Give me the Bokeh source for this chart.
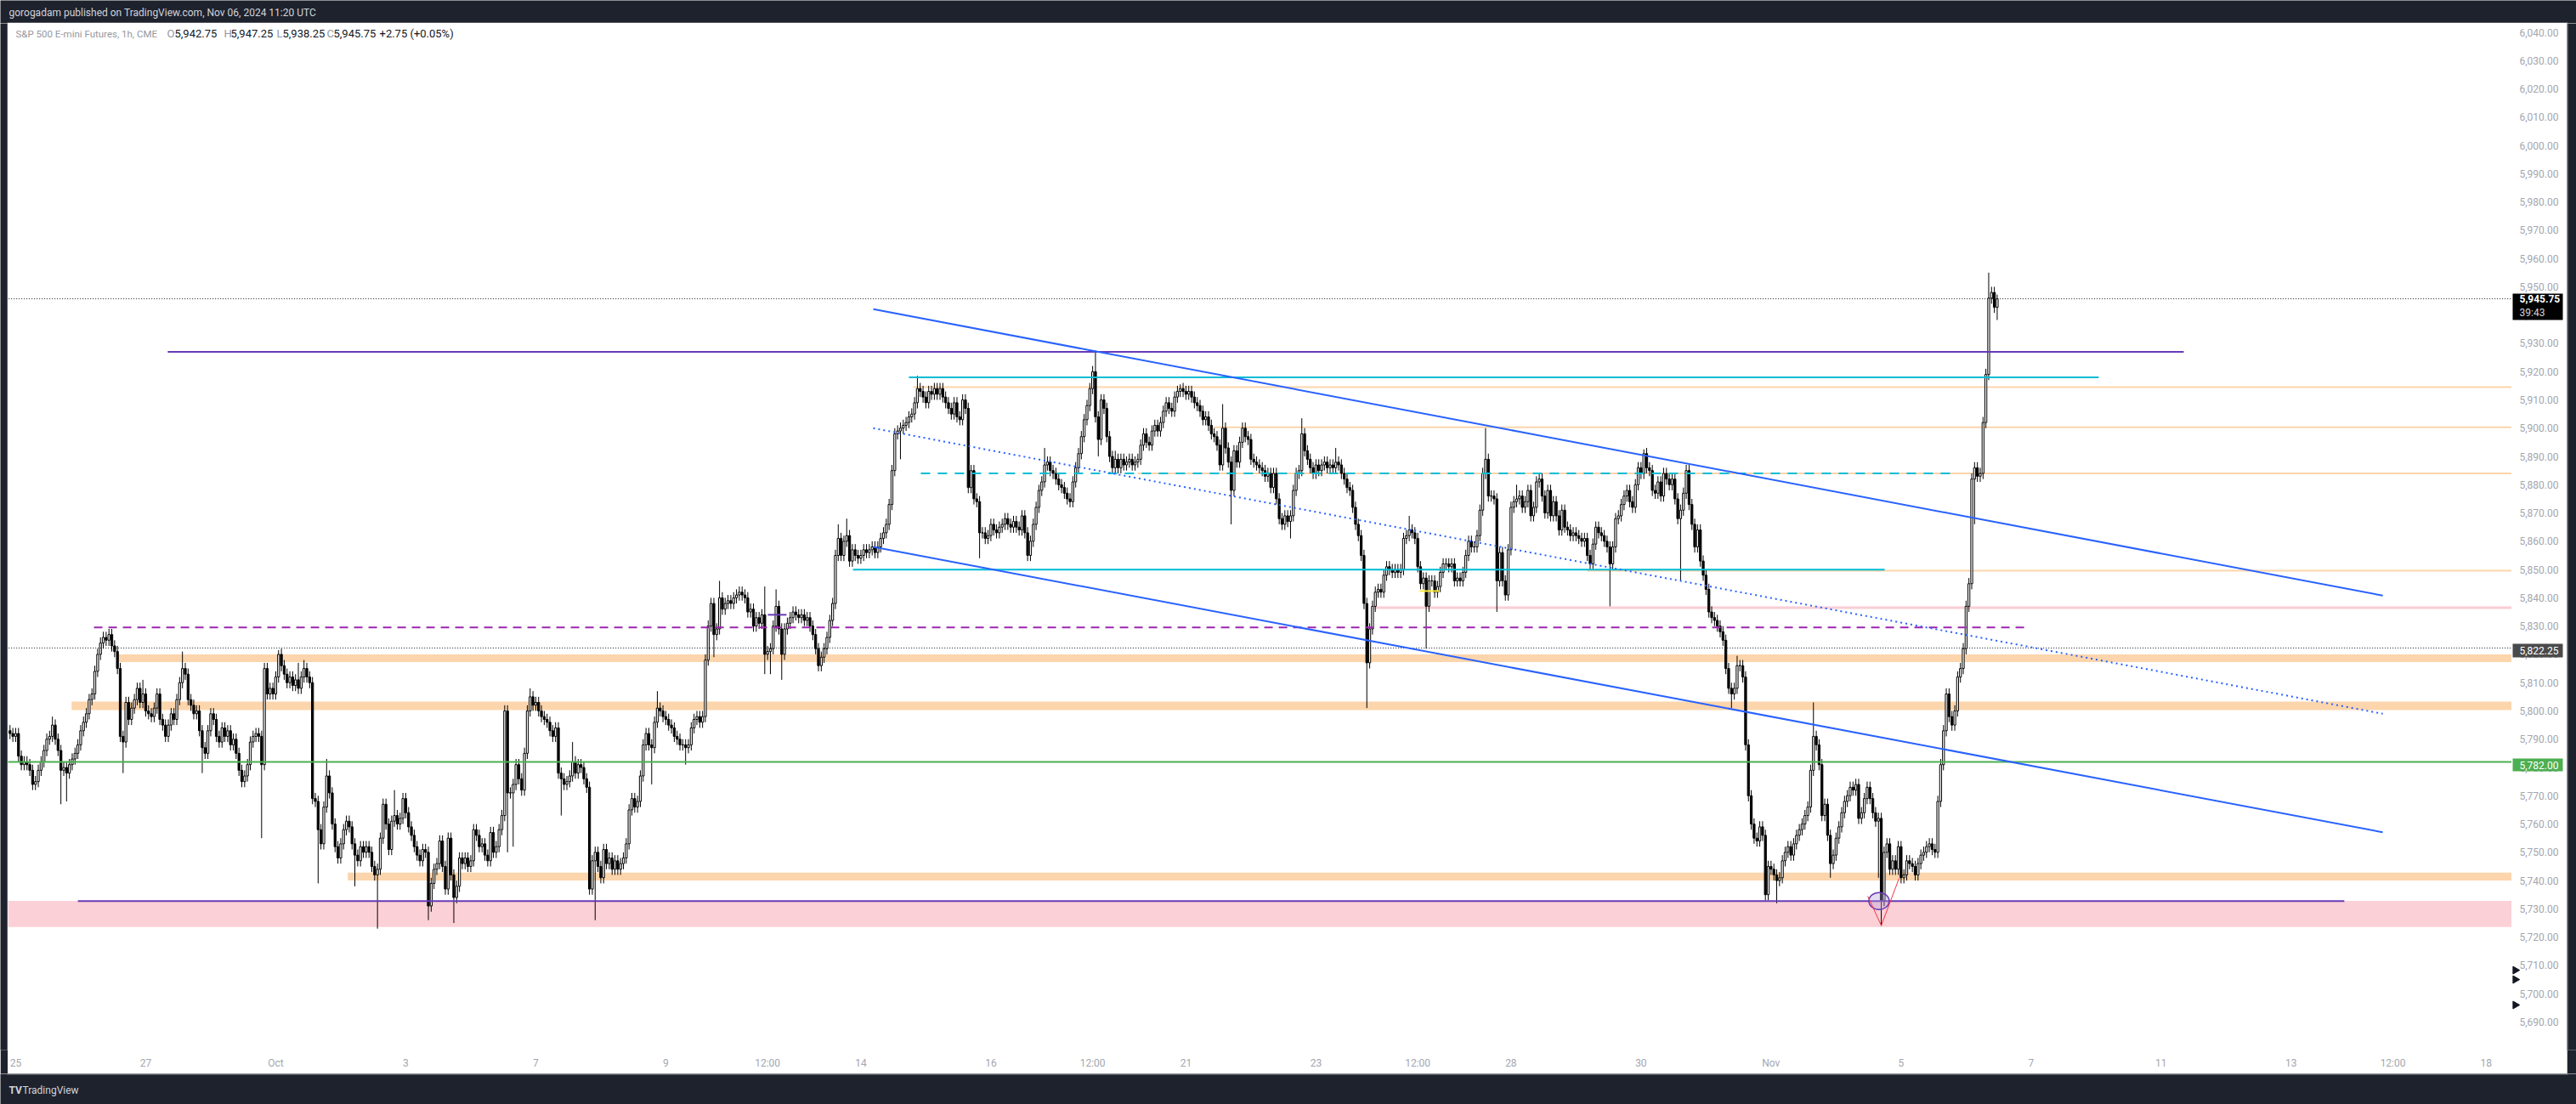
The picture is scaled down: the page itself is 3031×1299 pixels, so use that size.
import numpy as np
from bokeh.plotting import figure
from bokeh.models import Range1d, FixedTicker, Label
from bokeh.layouts import column, row
from bokeh.embed import file_html
from bokeh.resources import INLINE
from bokeh.core.properties import value

# ---------------- data (hourly ES candles) ----------------
first_open = 5793
closes = [
 5792, 5791, 5792, 5784, 5781, 5782, 5781, 5779, 5774, 5775,
 5779, 5782, 5786, 5790, 5791, 5795, 5790, 5786, 5779, 5780,
 5778, 5781, 5783, 5785, 5788, 5793, 5796, 5799, 5804, 5806,
 5814, 5820, 5824, 5826, 5825, 5827, 5823, 5821, 5815, 5791,
 5789, 5803, 5797, 5801, 5804, 5808, 5803, 5806, 5800, 5799,
 5798, 5801, 5806, 5797, 5795, 5791, 5795, 5799, 5797, 5804,
 5810, 5815, 5813, 5804, 5802, 5799, 5800, 5793, 5787, 5785,
 5793, 5799, 5797, 5791, 5789, 5794, 5791, 5793, 5788, 5790,
 5785, 5779, 5775, 5777, 5781, 5789, 5791, 5792, 5791, 5781,
 5815, 5806, 5808, 5806, 5812, 5820, 5816, 5813, 5810, 5812,
 5809, 5811, 5808, 5812, 5815, 5812, 5810, 5769, 5768, 5758,
 5753, 5766, 5777, 5771, 5760, 5752, 5748, 5753, 5758, 5761,
 5759, 5753, 5749, 5747, 5752, 5750, 5752, 5750, 5745, 5742,
 5744, 5755, 5767, 5760, 5751, 5761, 5763, 5760, 5762, 5769,
 5764, 5759, 5756, 5752, 5749, 5747, 5751, 5750, 5731, 5739,
 5744, 5746, 5754, 5745, 5737, 5755, 5742, 5734, 5738, 5748,
 5746, 5748, 5745, 5747, 5758, 5756, 5752, 5753, 5749, 5747,
 5757, 5750, 5752, 5758, 5763, 5800, 5771, 5771, 5774, 5781,
 5776, 5772, 5785, 5800, 5805, 5802, 5803, 5800, 5798, 5797,
 5796, 5793, 5791, 5794, 5778, 5776, 5774, 5775, 5777, 5782,
 5778, 5781, 5780, 5776, 5773, 5737, 5747, 5750, 5745, 5741,
 5751, 5746, 5748, 5744, 5747, 5744, 5746, 5748, 5753, 5765,
 5769, 5766, 5768, 5777, 5788, 5792, 5788, 5787, 5796, 5801,
 5800, 5798, 5797, 5795, 5794, 5791, 5790, 5788, 5788, 5787,
 5788, 5794, 5797, 5798, 5796, 5798, 5818, 5830, 5838, 5827,
 5829, 5840, 5836, 5838, 5839, 5838, 5840, 5841, 5842, 5841,
 5840, 5835, 5836, 5830, 5833, 5831, 5834, 5820, 5821, 5822,
 5830, 5837, 5829, 5820, 5829, 5831, 5833, 5835, 5834, 5833,
 5834, 5832, 5833, 5830, 5827, 5822, 5816, 5819, 5822, 5826,
 5832, 5838, 5855, 5861, 5855, 5860, 5862, 5853, 5857, 5855,
 5854, 5855, 5857, 5856, 5857, 5858, 5856, 5858, 5861, 5863,
 5866, 5873, 5885, 5898, 5899, 5900, 5901, 5902, 5904, 5905,
 5909, 5914, 5913, 5911, 5909, 5913, 5912, 5914, 5912, 5914,
 5911, 5909, 5907, 5905, 5909, 5904, 5903, 5910, 5907, 5879,
 5885, 5875, 5874, 5863, 5863, 5861, 5862, 5866, 5864, 5863,
 5865, 5866, 5868, 5866, 5865, 5867, 5865, 5864, 5869, 5863,
 5855, 5860, 5866, 5872, 5878, 5881, 5887, 5888, 5885, 5884,
 5882, 5880, 5879, 5877, 5875, 5874, 5881, 5886, 5891, 5897,
 5903, 5908, 5914, 5920, 5904, 5896, 5910, 5907, 5897, 5890,
 5886, 5889, 5886, 5889, 5887, 5888, 5889, 5887, 5888, 5889,
 5894, 5898, 5895, 5894, 5899, 5901, 5899, 5902, 5906, 5909,
 5907, 5906, 5911, 5913, 5914, 5913, 5912, 5913, 5911, 5909,
 5908, 5906, 5903, 5904, 5901, 5898, 5897, 5894, 5887, 5900,
 5893, 5888, 5878, 5892, 5888, 5895, 5900, 5897, 5896, 5889,
 5888, 5887, 5886, 5885, 5883, 5884, 5879, 5884, 5875, 5868,
 5866, 5869, 5867, 5869, 5878, 5884, 5885, 5898, 5892, 5889,
 5886, 5884, 5887, 5885, 5887, 5888, 5886, 5887, 5886, 5888,
 5887, 5884, 5882, 5879, 5878, 5872, 5866, 5862, 5855, 5838,
 5817, 5829, 5837, 5842, 5843, 5842, 5848, 5851, 5850, 5849,
 5850, 5849, 5850, 5861, 5862, 5864, 5863, 5861, 5851, 5845,
 5847, 5837, 5846, 5846, 5842, 5844, 5849, 5852, 5852, 5851,
 5852, 5846, 5847, 5846, 5849, 5855, 5860, 5858, 5858, 5862,
 5871, 5884, 5889, 5876, 5876, 5875, 5846, 5856, 5846, 5841,
 5857, 5872, 5874, 5875, 5876, 5872, 5874, 5878, 5869, 5872,
 5881, 5882, 5876, 5870, 5878, 5869, 5874, 5869, 5864, 5871,
 5865, 5864, 5862, 5863, 5862, 5861, 5860, 5861, 5855, 5852,
 5859, 5865, 5863, 5862, 5860, 5858, 5852, 5858, 5868, 5869,
 5873, 5876, 5878, 5874, 5872, 5880, 5886, 5884, 5891, 5886,
 5885, 5878, 5877, 5881, 5876, 5884, 5882, 5880, 5882, 5875,
 5868, 5871, 5877, 5885, 5873, 5866, 5858, 5864, 5853, 5848,
 5843, 5835, 5833, 5832, 5830, 5828, 5825, 5815, 5808, 5806,
 5808, 5816, 5816, 5812, 5788, 5770, 5760, 5755, 5754, 5759,
 5756, 5735, 5745, 5744, 5742, 5740, 5741, 5747, 5750, 5752,
 5749, 5753, 5756, 5758, 5760, 5763, 5766, 5779, 5791, 5788,
 5781, 5763, 5767, 5756, 5746, 5749, 5755, 5759, 5764, 5768,
 5770, 5773, 5772, 5774, 5762, 5764, 5769, 5773, 5769, 5764,
 5761, 5762, 5733, 5750, 5753, 5744, 5747, 5744, 5752, 5741,
 5742, 5747, 5746, 5745, 5742, 5746, 5749, 5750, 5752, 5753,
 5751, 5750, 5768, 5781, 5793, 5806, 5798, 5795, 5800, 5812,
 5815, 5822, 5837, 5845, 5882, 5886, 5883, 5884, 5902, 5919,
 5946, 5948, 5942.75, 5945.75,
]
# wick extents beyond the body (points), for bars with visible long wicks
wick_up = {15: 3, 35: 2, 47: 5, 61: 6, 95: 1.5, 102: 6, 104: 3, 112: 6, 136: 9,
           184: 3, 199: 7, 229: 6, 248: 2, 251: 6, 267: 10, 271: 6, 293: 5, 296: 6,
           321: 4.5, 366: 6, 384: 7.5, 391: 3, 414: 1.5, 429: 8.5, 457: 5.5, 469: 5,
           495: 5, 522: 11, 533: 5, 541: 2, 578: 1.5, 611: 3.5, 638: 12, 653: 2,
           700: 9, 703: 1.5}
wick_dn = {18: 12, 20: 10, 40: 11, 68: 9, 89: 26, 109: 19, 122: 11, 130: 19, 148: 5,
           157: 9, 176: 21, 178: 19, 195: 13, 207: 21, 227: 13, 239: 6, 249: 8, 267: 7,
           269: 8, 273: 9, 315: 10, 343: 9, 385: 6, 432: 12, 453: 6, 480: 16, 501: 15,
           526: 11, 566: 15, 591: 22, 609: 5, 625: 8, 644: 5, 661: 20, 662: 9, 695: 16,
           703: 4.5}
small_wick = 2

x_tick_bars = [2, 48, 94, 140, 186, 232, 268, 301, 347, 383, 416, 462, 498, 531,
               577, 623, 669, 715, 761, 807, 843, 876]
x_tick_labels = ["25", "27", "Oct", "3", "7", "9", "12:00", "14", "16", "12:00", "21",
                 "23", "12:00", "28", "30", "Nov", "5", "7", "11", "13", "12:00", "18"]
y_ticks = list(range(5690, 6041, 10))

last_price = 5945.75
countdown = "39:43"
prev_close = 5822.25
green_level = 5782.00

# drawings: horizontal levels (price, start bar, end bar)
purple_level = (5927.0, 55.8, 769.0)
cyan_top = (5918.0, 318.0, 738.9)
cyan_mid = (5850.0, 298.2, 663.2)
cyan_dash = (5884.0, 322.2, 688.1)
orange_lines = [(5914.5, 319.5), (5900.3, 425.9), (5884.0, 398.9), (5849.6, 557.9)]
pink_line = (5836.5, 481.9)
purple_dash = (5829.5, 29.7, 713.7)
purple_bottom = (5732.75, 24.0, 825.8)
purple_small = (5834.0, 268.1, 274.7)
yellow_small = (5842.4, 498.7, 505.6)
orange_bands = [(5817.3, 5820.0, 38.5), (5800.3, 5803.3, 21.8), (5740.0, 5742.8, 119.5)]
pink_band = (5723.6, 5732.8)
# channel trend lines: (bar0, price0, bar1, price1)
chan_upper = (305.4, 5942.1, 839.4, 5840.8)
chan_mid = (305.4, 5900.0, 839.4, 5799.0)
chan_lower = (305.4, 5858.0, 839.4, 5757.1)
ellipse_mark = (661.2, 5732.75)
red_path_x = [657.2, 662.0, 668.3]
red_path_y = [5734.5, 5724.1, 5740.8]
markers_right = [5708.3, 5705.0, 5696.0]

legend_parts = [("S&P 500 E-mini Futures, 1h, CME", 18, "#9598a1", "11.5px"),
                ("O", 196, "#9598a1", "13px"), ("5,942.75", 205, "#131722", "13px"),
                ("H", 263, "#9598a1", "13px"), ("5,947.25", 271, "#131722", "13px"),
                ("L", 325, "#9598a1", "13px"), ("5,938.25", 332, "#131722", "13px"),
                ("C", 384, "#9598a1", "13px"), ("5,945.75", 392, "#131722", "13px"),
                ("+2.75 (+0.05%)", 446, "#131722", "13px")]

# ---------------- layout geometry ----------------
DARK = "#1e222d"
EDGE = "#8a8d96"
FONT = "Roboto"
AXIS_TXT = "#a3a6af"
X0, X1 = -0.69, 885.07          # bar index range of the plot frame
Y0, Y1 = 5680.07, 6043.16       # price range of the plot frame
PANEL_LEFT, FRAME_W, SCALE_W, RIGHT_W = 9, 2946, 65, 11
HEAD_H, MAIN_H, FOOT_H, TIME_H = 27, 1236, 36, 28
FRAME_H = MAIN_H - TIME_H


def bar_at(px):
    return X0 + (px - PANEL_LEFT) * (X1 - X0) / FRAME_W


def price_at(py):
    return Y1 - (py - HEAD_H) * (Y1 - Y0) / FRAME_H


def plain(fig):
    fig.axis.visible = False
    fig.grid.visible = False
    return fig


yr = Range1d(Y0, Y1)
p = figure(width=FRAME_W, height=MAIN_H, x_range=Range1d(X0, X1), y_range=yr,
           output_backend="svg", toolbar_location=None, title=None,
           min_border=0, min_border_left=0, min_border_right=0, min_border_top=0,
           min_border_bottom=TIME_H, y_axis_location=None,
           background_fill_color="white", border_fill_color="white",
           outline_line_color=None)
p.grid.visible = False
p.xaxis.ticker = FixedTicker(ticks=x_tick_bars)
p.xaxis.major_label_overrides = {t: l for t, l in zip(x_tick_bars, x_tick_labels)}
p.xaxis.axis_line_color = None
p.xaxis.major_tick_line_color = None
p.xaxis.minor_tick_line_color = None
p.xaxis.major_tick_out = 0
p.xaxis.major_tick_in = 0
p.xaxis.major_label_text_font = FONT
p.xaxis.major_label_text_font_size = "12px"
p.xaxis.major_label_text_color = AXIS_TXT
p.xaxis.major_label_standoff = 8

FAR_L, FAR_R = -5, 900

# bands under candles
p.quad(left=[FAR_L], right=[FAR_R], bottom=[pink_band[0]], top=[pink_band[1]],
       fill_color="#fbd0d6", line_color=None)
for lo_, hi_, start in orange_bands:
    p.quad(left=[start], right=[FAR_R], bottom=[lo_], top=[hi_],
           fill_color="#fcd5ac", line_color=None)
for lvl, start in orange_lines:
    p.segment(x0=[start], y0=[lvl], x1=[FAR_R], y1=[lvl], line_color="#fcd5ac", line_width=2)
p.segment(x0=[pink_line[1]], y0=[pink_line[0]], x1=[FAR_R], y1=[pink_line[0]],
          line_color="#f9cdd4", line_width=3)

# candles
c = np.array(closes, dtype=float)
n = len(c)
idx = np.arange(n)
o = np.concatenate([[first_open], c[:-1]])
up = np.array([wick_up.get(i, small_wick) for i in range(n)])
dn = np.array([wick_dn.get(i, small_wick) for i in range(n)])
hi = np.maximum(o, c) + up
lo = np.minimum(o, c) - dn
inc = c >= o
p.segment(x0=idx, y0=hi, x1=idx, y1=lo, line_color="black", line_width=1)
p.vbar(x=idx[inc], width=0.68, top=c[inc], bottom=o[inc], fill_color="white",
       line_color="black", line_width=1)
p.vbar(x=idx[~inc], width=0.68, top=o[~inc], bottom=c[~inc], fill_color="black",
       line_color="black", line_width=1)

# lines over candles
p.segment(x0=[FAR_L], y0=[green_level], x1=[FAR_R], y1=[green_level],
          line_color="#4caf50", line_width=2)
for lvl in (last_price, prev_close):
    p.segment(x0=[FAR_L], y0=[lvl], x1=[FAR_R], y1=[lvl], line_color="#131722",
              line_width=1, line_dash="1 2")
for lvl, a, b in (purple_level, purple_bottom, purple_small):
    p.segment(x0=[a], y0=[lvl], x1=[b], y1=[lvl], line_color="#673ab7", line_width=2)
p.segment(x0=[purple_dash[1]], y0=[purple_dash[0]], x1=[purple_dash[2]],
          y1=[purple_dash[0]], line_color="#9c27b0", line_width=2, line_dash="10 7")
for lvl, a, b in (cyan_top, cyan_mid):
    p.segment(x0=[a], y0=[lvl], x1=[b], y1=[lvl], line_color="#00bcd4", line_width=2)
p.segment(x0=[cyan_dash[1]], y0=[cyan_dash[0]], x1=[cyan_dash[2]], y1=[cyan_dash[0]],
          line_color="#00bcd4", line_width=2, line_dash="11 9")
p.segment(x0=[yellow_small[1]], y0=[yellow_small[0]], x1=[yellow_small[2]],
          y1=[yellow_small[0]], line_color="#ffeb3b", line_width=2)
for (a, pa, b, pb) in (chan_upper, chan_lower):
    p.segment(x0=[a], y0=[pa], x1=[b], y1=[pb], line_color="#2962ff", line_width=2)
p.segment(x0=[chan_mid[0]], y0=[chan_mid[1]], x1=[chan_mid[2]], y1=[chan_mid[3]],
          line_color="#2962ff", line_width=2, line_dash="2 4")

p.ellipse(x=[ellipse_mark[0]], y=[ellipse_mark[1]], width=7.2, height=6.0,
          fill_color="#b39ddb", fill_alpha=0.35, line_color="#673ab7", line_width=1.5)
p.line(x=red_path_x, y=red_path_y, line_color="#f23645", line_width=1)

# legend line
leg_y = price_at(39)
for txt, px, col, fs in legend_parts:
    p.add_layout(Label(x=bar_at(px), y=leg_y, text=txt, text_color=col, text_font=FONT,
                       text_font_size=fs, text_baseline="middle", text_align="left"))

# ---------------- price scale (right) ----------------
s = figure(width=SCALE_W, height=MAIN_H, x_range=Range1d(0, SCALE_W), y_range=yr,
           output_backend="svg", toolbar_location=None, title=None,
           min_border=0, min_border_left=0, min_border_right=0, min_border_top=0,
           min_border_bottom=TIME_H, x_axis_location=None, y_axis_location=None,
           background_fill_color="white", border_fill_color="white",
           outline_line_color=None)
s.grid.visible = False
s.text(x=[9] * len(y_ticks), y=y_ticks, text=[f"{v:,.2f}" for v in y_ticks],
       text_font=value(FONT), text_font_size="12px", text_color=AXIS_TXT,
       text_baseline="middle", text_align="left")
# tags
s.quad(left=[1], right=[60], top=[price_at(345)], bottom=[price_at(376)],
       fill_color="#000000", line_color=None)
s.text(x=[9], y=[last_price], text=[f"{last_price:,.2f}"], text_font=value(FONT),
       text_font_size="12px", text_font_style="bold", text_color="white",
       text_baseline="middle")
s.text(x=[9], y=[price_at(367)], text=[countdown], text_font=value(FONT),
       text_font_size="12px", text_color="#d1d4dc", text_baseline="middle")
s.quad(left=[1], right=[60], top=[price_at(757)], bottom=[price_at(773)],
       fill_color="#4a4a4a", line_color=None)
s.text(x=[9], y=[price_at(765)], text=[f"{prev_close:,.2f}"], text_font=value(FONT),
       text_font_size="12px", text_color="white", text_baseline="middle")
s.quad(left=[1], right=[60], top=[price_at(892)], bottom=[price_at(907)],
       fill_color="#4caf50", line_color=None)
s.text(x=[9], y=[price_at(899.5)], text=[f"{green_level:,.2f}"], text_font=value(FONT),
       text_font_size="12px", text_color="white", text_baseline="middle")
s.scatter(x=[4] * len(markers_right), y=markers_right, marker="triangle", size=9,
          angle=-np.pi / 2, fill_color="#131722", line_color="#131722")

# ---------------- dark frame pieces ----------------
def dark(w, h):
    f = figure(width=w, height=h, x_range=Range1d(0, w), y_range=Range1d(0, h),
               output_backend="svg", toolbar_location=None, title=None, min_border=0,
               background_fill_color=DARK, border_fill_color=DARK, outline_line_color=None)
    return plain(f)


head = dark(3031, HEAD_H)
head.text(x=[10], y=[13], text=["gorogadam published on TradingView.com, Nov 06, 2024 11:20 UTC"],
          text_font=value(FONT), text_font_size="12px", text_color="#d1d4dc",
          text_baseline="middle", text_align="left")
head.segment(x0=[PANEL_LEFT - 1], y0=[0.5], x1=[3021], y1=[0.5], line_color=EDGE, line_width=1)
foot = dark(3031, FOOT_H)
foot.segment(x0=[PANEL_LEFT - 1], y0=[FOOT_H - 0.5], x1=[3021], y1=[FOOT_H - 0.5],
             line_color=EDGE, line_width=1)
foot.text(x=[10], y=[17], text=["TV"], text_font=value(FONT), text_font_size="12px",
          text_font_style="bold", text_color="#d1d4dc", text_baseline="middle")
foot.text(x=[26], y=[17], text=["TradingView"], text_font=value(FONT), text_font_size="12px",
          text_color="#d1d4dc", text_baseline="middle")
left = dark(PANEL_LEFT, MAIN_H)
left.segment(x0=[PANEL_LEFT - 0.5], y0=[0], x1=[PANEL_LEFT - 0.5], y1=[MAIN_H],
             line_color=EDGE, line_width=1)
right = dark(RIGHT_W, MAIN_H)
right.segment(x0=[0.5], y0=[0], x1=[0.5], y1=[MAIN_H], line_color=EDGE, line_width=1)

layout = column(head, row(left, p, s, right, spacing=0), foot, spacing=0)
open("out.html", "w").write(file_html(layout, INLINE))
